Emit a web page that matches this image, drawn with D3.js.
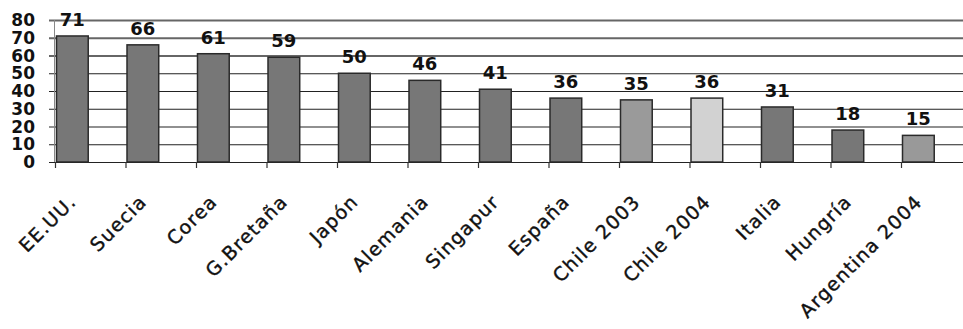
<!DOCTYPE html>
<html>
<head>
<meta charset="utf-8">
<script src="https://cdn.jsdelivr.net/npm/d3@7"></script>
<style>
  body { margin: 0; background: #fff; }
  svg { display: block; }
</style>
</head>
<body>
<div id="chart"></div>
<script>
var categories = ['EE.UU.', 'Suecia', 'Corea', 'G.Bretaña', 'Japón', 'Alemania', 'Singapur',
                  'España', 'Chile 2003', 'Chile 2004', 'Italia', 'Hungría', 'Argentina 2004'];
var values = [71, 66, 61, 59, 50, 46, 41, 36, 35, 36, 31, 18, 15];
var barColors = ['#777', '#777', '#777', '#777', '#777', '#777', '#777',
                 '#777', '#9a9a9a', '#d2d2d2', '#777', '#777', '#999'];
var yTicks = [0, 10, 20, 30, 40, 50, 60, 70, 80];

var width = 963, height = 329;

var svg = d3.select('#chart').append('svg')
  .attr('width', width).attr('height', height);

var x = d3.scaleBand().domain(categories).range([55, 55 + 13 * 70.5]);
var y = d3.scaleLinear().domain([0, 80]).range([162, 20]);

var data = categories.map(function(c, i) {
  return { name: c, value: values[i], color: barColors[i] };
});

// gridlines
svg.append('g').selectAll('line').data(yTicks).enter().append('line')
  .attr('x1', 49).attr('x2', width)
  .attr('y1', function(d) { return y(d) + 0.5; })
  .attr('y2', function(d) { return y(d) + 0.5; })
  .attr('stroke', function(d) { return d >= 60 ? '#666' : '#222'; })
  .attr('stroke-width', function(d) { return d >= 60 ? 1.8 : 1.2; });

// y axis line
svg.append('line')
  .attr('x1', 54.5).attr('x2', 54.5)
  .attr('y1', y(80)).attr('y2', y(0))
  .attr('stroke', '#888').attr('stroke-width', 1);

// y labels (packed tight, like the original)
svg.append('g').selectAll('text').data(yTicks).enter().append('text')
  .attr('x', 35).attr('y', function(d) { return y(d); })
  .attr('dy', '0.36em')
  .attr('text-anchor', 'end')
  .style('font', 'bold 17px "DejaVu Sans", Verdana, sans-serif')
  .attr('fill', '#111')
  .text(function(d) { return d; });

// category ticks
svg.append('g').selectAll('line').data(categories).enter().append('line')
  .attr('x1', function(d) { return x(d) + 0.5; })
  .attr('x2', function(d) { return x(d) + 0.5; })
  .attr('y1', y(0)).attr('y2', y(0) + 6)
  .attr('stroke', '#333').attr('stroke-width', 1.2);

var barW = x.bandwidth() * 0.45;

// bars
svg.append('g').selectAll('rect').data(data).enter().append('rect')
  .attr('x', function(d) { return x(d.name) + 1.5; })
  .attr('y', function(d) { return y(d.value); })
  .attr('width', barW)
  .attr('height', function(d) { return y(0) - y(d.value); })
  .attr('fill', function(d) { return d.color; })
  .attr('stroke', '#2a2a2a')
  .attr('stroke-width', 1.5);

// value labels
svg.append('g').selectAll('text').data(data).enter().append('text')
  .attr('x', function(d) { return x(d.name) + 1.5 + barW / 2; })
  .attr('y', function(d) { return y(d.value) - 10; })
  .attr('text-anchor', 'middle')
  .style('font', 'bold 18px "DejaVu Sans", Verdana, sans-serif')
  .attr('fill', '#111')
  .text(function(d) { return d.value; });

// category labels, rotated
svg.append('g').selectAll('text').data(data).enter().append('text')
  .attr('transform', function(d) {
    return 'translate(' + (x(d.name) + 1.5 + barW / 2 + 5) + ',203) rotate(-45)';
  })
  .attr('text-anchor', 'end')
  .style('font', '19px "DejaVu Sans", Verdana, sans-serif')
  .style('letter-spacing', '1.2px')
  .attr('fill', '#111')
  .attr('stroke', '#111')
  .attr('stroke-width', 0.4)
  .text(function(d) { return d.name; });
</script>
</body>
</html>
